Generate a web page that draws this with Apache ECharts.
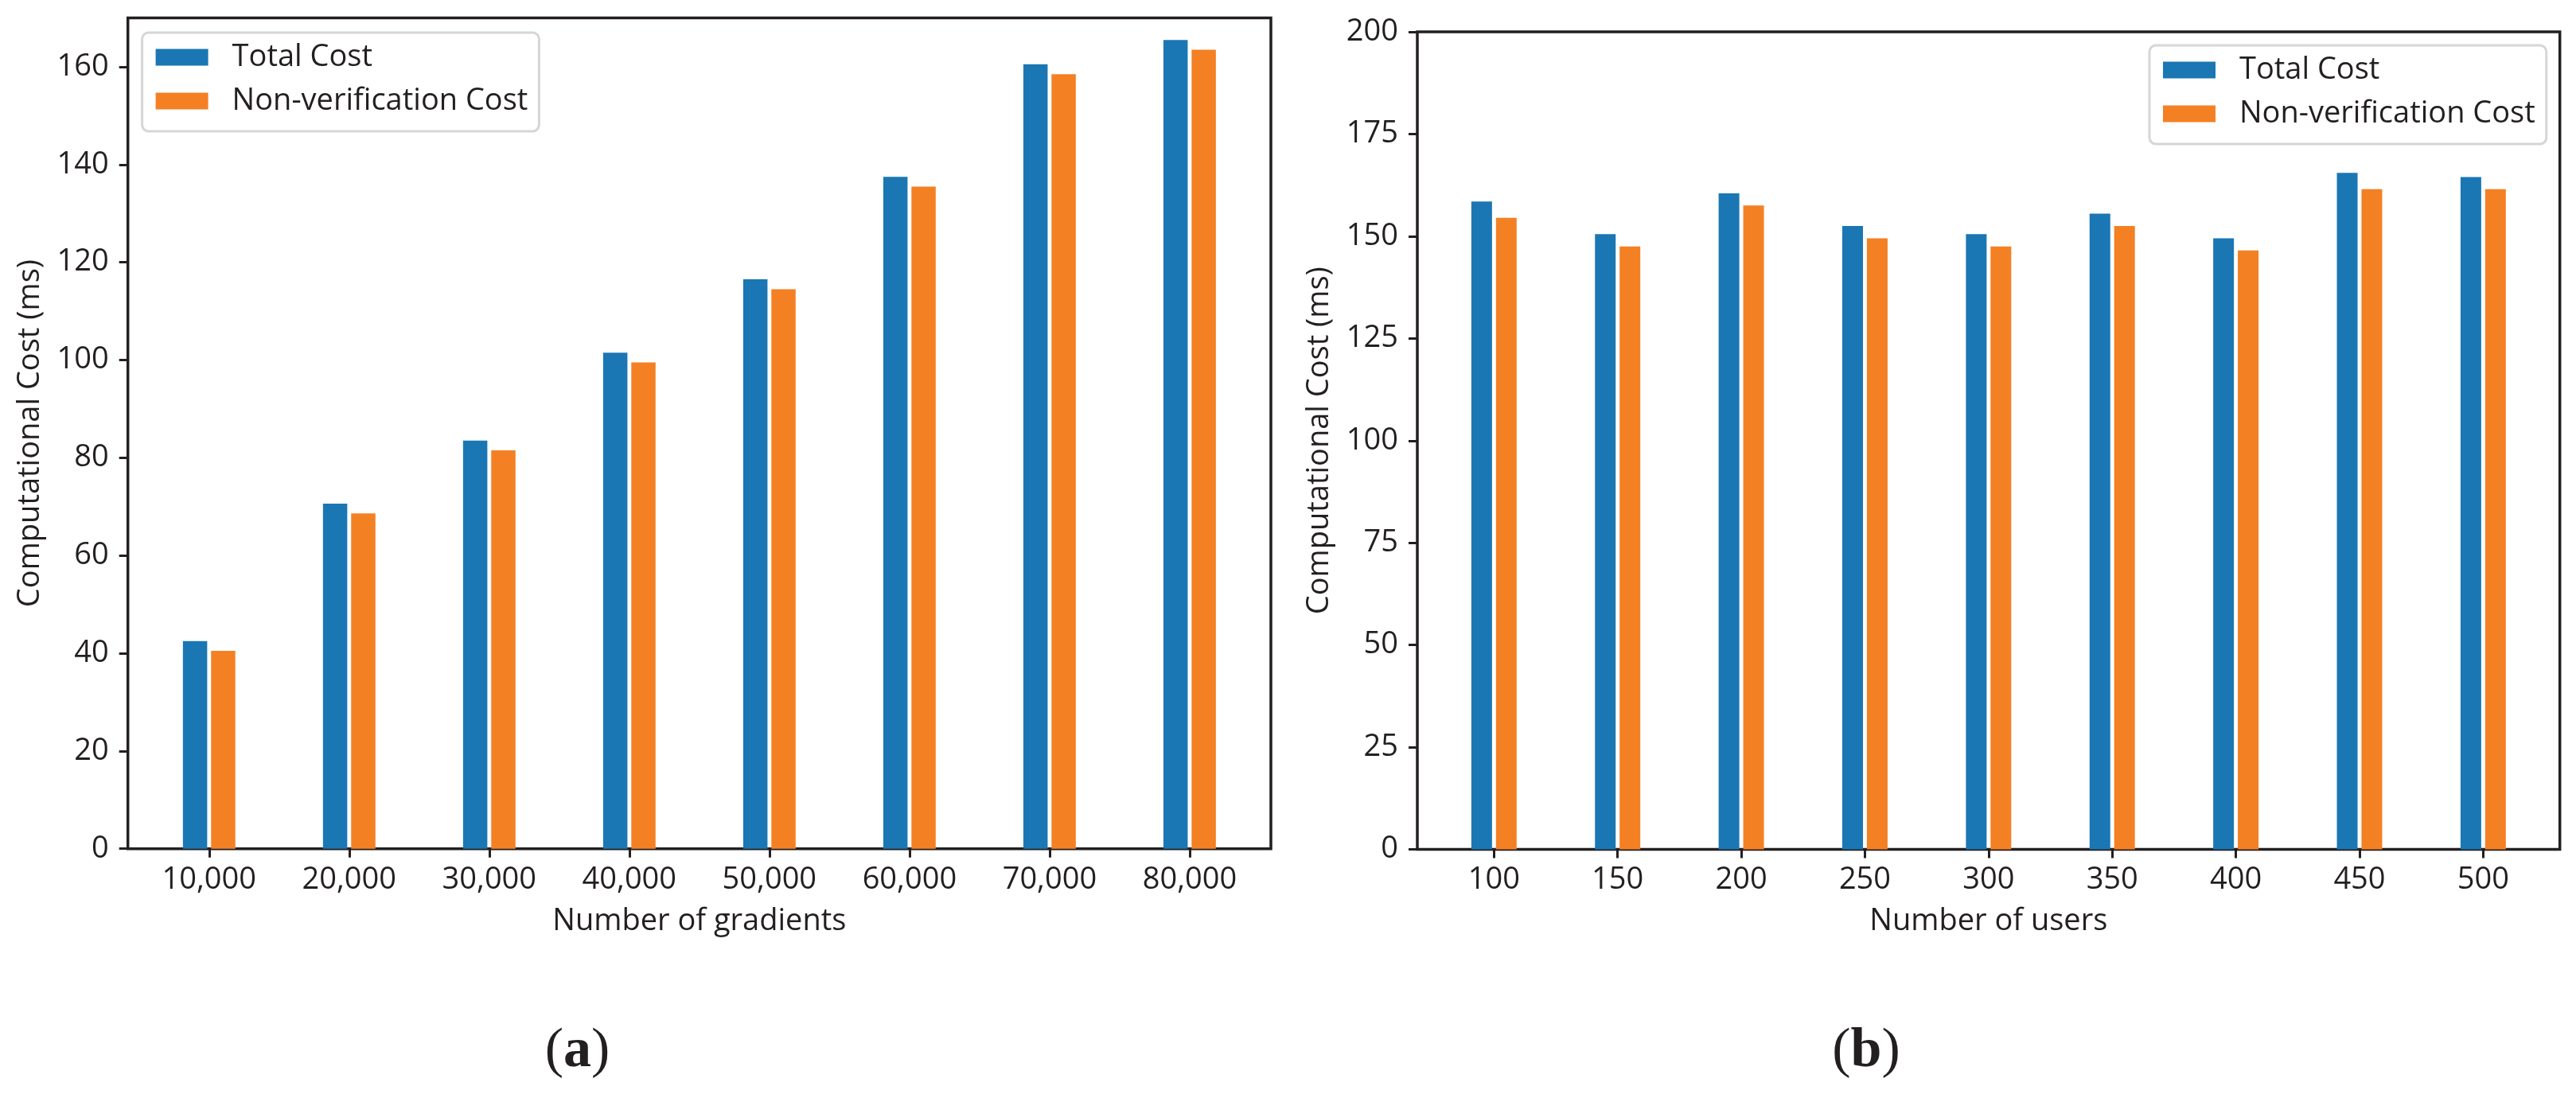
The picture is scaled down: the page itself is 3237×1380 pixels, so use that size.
<!DOCTYPE html>
<html>
<head>
<meta charset="utf-8">
<script src="https://cdn.jsdelivr.net/npm/echarts@6/dist/echarts.min.js"></script>
<style>
html,body{margin:0;padding:0;background:#fff;}
#chart{width:3237px;height:1380px;}
</style>
</head>
<body>
<div id="chart"></div>
<script>
// ---- data ----
const gradCategories = ['10,000','20,000','30,000','40,000','50,000','60,000','70,000','80,000'];
const gradTotal      = [42.5, 70.6, 83.5, 101.5, 116.5, 137.5, 160.5, 165.5];
const gradNonVerif   = [40.5, 68.6, 81.5, 99.5, 114.5, 135.5, 158.5, 163.5];

const userCategories = ['100','150','200','250','300','350','400','450','500'];
const userTotal      = [158.5, 150.5, 160.5, 152.5, 150.5, 155.5, 149.5, 165.5, 164.5];
const userNonVerif   = [154.5, 147.5, 157.5, 149.5, 147.5, 152.5, 146.5, 161.5, 161.5];

const leftYTicks  = [0, 20, 40, 60, 80, 100, 120, 140, 160];
const rightYTicks = [0, 25, 50, 75, 100, 125, 150, 175, 200];

const seriesNames = ['Total Cost', 'Non-verification Cost'];
const panelLabels = ['a', 'b'];

// ---- styles ----
const INK = '#231f20';
const BLUE = '#1a77b3';
const ORANGE = '#f48024';
const FONT = '"Open Sans", "Noto Sans", sans-serif';
const FS = 38;

const chart = echarts.init(document.getElementById('chart'), null, {renderer: 'canvas'});

function pairs(vals) { return vals.map((v, i) => [i, v]); }
function idx(n) { return Array.from({length: n}, (_, i) => i); }

function xAxisFor(gridIndex, cats, name, pad) {
  const ticks = idx(cats.length);
  return {
    type: 'value', gridIndex: gridIndex,
    min: -pad, max: cats.length - 1 + pad,
    name: name, nameLocation: 'middle', nameGap: 72,
    nameTextStyle: {fontFamily: FONT, fontSize: FS, color: INK},
    axisLine: {show: false, onZero: false},
    splitLine: {show: false},
    axisTick: {show: true, inside: false, length: 11, customValues: ticks,
               lineStyle: {color: INK, width: 3}},
    axisLabel: {show: true, margin: 20, customValues: ticks,
                fontFamily: FONT, fontSize: FS, color: INK,
                formatter: v => cats[Math.round(v)]}
  };
}
function yAxisFor(gridIndex, ticks, max) {
  return {
    type: 'value', gridIndex: gridIndex, min: 0, max: max,
    name: 'Computational Cost (ms)', nameLocation: 'middle', nameGap: 104,
    nameTextStyle: {fontFamily: FONT, fontSize: FS, color: INK},
    axisLine: {show: false, onZero: false},
    splitLine: {show: false},
    axisTick: {show: true, inside: false, length: 11, customValues: ticks,
               lineStyle: {color: INK, width: 3}},
    axisLabel: {show: true, margin: 24, customValues: ticks,
                fontFamily: FONT, fontSize: FS, color: INK}
  };
}
function legendFor(pos) {
  return Object.assign({
    data: seriesNames, orient: 'vertical',
    itemWidth: 66, itemHeight: 21, itemGap: 17,
    padding: [12, 14, 19, 17],
    borderColor: '#d6d6d6', borderWidth: 3, borderRadius: 8,
    backgroundColor: '#fff',
    icon: 'rect',
    textStyle: {fontFamily: FONT, fontSize: FS, color: INK, padding: [0, 0, 0, 25]},
    selectedMode: false
  }, pos);
}

const option = {
  backgroundColor: '#fff',
  animation: false,
  grid: [
    {left: 160.7, top: 22.5, width: 1436.3, height: 1044.2, show: true,
     borderColor: INK, borderWidth: 3.5, backgroundColor: 'transparent'},
    {left: 1781, top: 40, width: 1435.7, height: 1027.5, show: true,
     borderColor: INK, borderWidth: 3.5, backgroundColor: 'transparent'}
  ],
  xAxis: [
    xAxisFor(0, gradCategories, 'Number of gradients', 0.58),
    xAxisFor(1, userCategories, 'Number of users', 0.62)
  ],
  yAxis: [
    yAxisFor(0, leftYTicks, 170),
    yAxisFor(1, rightYTicks, 200)
  ],
  legend: [
    legendFor({left: 178.6, top: 41}),
    legendFor({left: 2701, top: 57})
  ],
  series: [
    {name: seriesNames[0], type: 'bar', xAxisIndex: 0, yAxisIndex: 0, data: pairs(gradTotal),
     barWidth: 30.5, barGap: '16%', itemStyle: {color: BLUE}},
    {name: seriesNames[1], type: 'bar', xAxisIndex: 0, yAxisIndex: 0, data: pairs(gradNonVerif),
     barWidth: 30.5, barGap: '16%', itemStyle: {color: ORANGE}},
    {name: seriesNames[0], type: 'bar', xAxisIndex: 1, yAxisIndex: 1, data: pairs(userTotal),
     barWidth: 26, barGap: '19%', itemStyle: {color: BLUE}},
    {name: seriesNames[1], type: 'bar', xAxisIndex: 1, yAxisIndex: 1, data: pairs(userNonVerif),
     barWidth: 26, barGap: '19%', itemStyle: {color: ORANGE}}
  ],
  graphic: [
    {type: 'text', x: 725.5, y: 1321.5,
     style: {text: '({b|' + panelLabels[0] + '})', textAlign: 'center', textVerticalAlign: 'middle',
             fontFamily: '"Liberation Serif", serif', fontSize: 70, fill: INK,
             rich: {b: {fontFamily: '"Liberation Serif", serif', fontSize: 70, fontWeight: 'bold', fill: INK}}}},
    {type: 'text', x: 2345, y: 1321.5,
     style: {text: '({b|' + panelLabels[1] + '})', textAlign: 'center', textVerticalAlign: 'middle',
             fontFamily: '"Liberation Serif", serif', fontSize: 70, fill: INK,
             rich: {b: {fontFamily: '"Liberation Serif", serif', fontSize: 70, fontWeight: 'bold', fill: INK}}}}
  ]
};
chart.setOption(option);
</script>
</body>
</html>
